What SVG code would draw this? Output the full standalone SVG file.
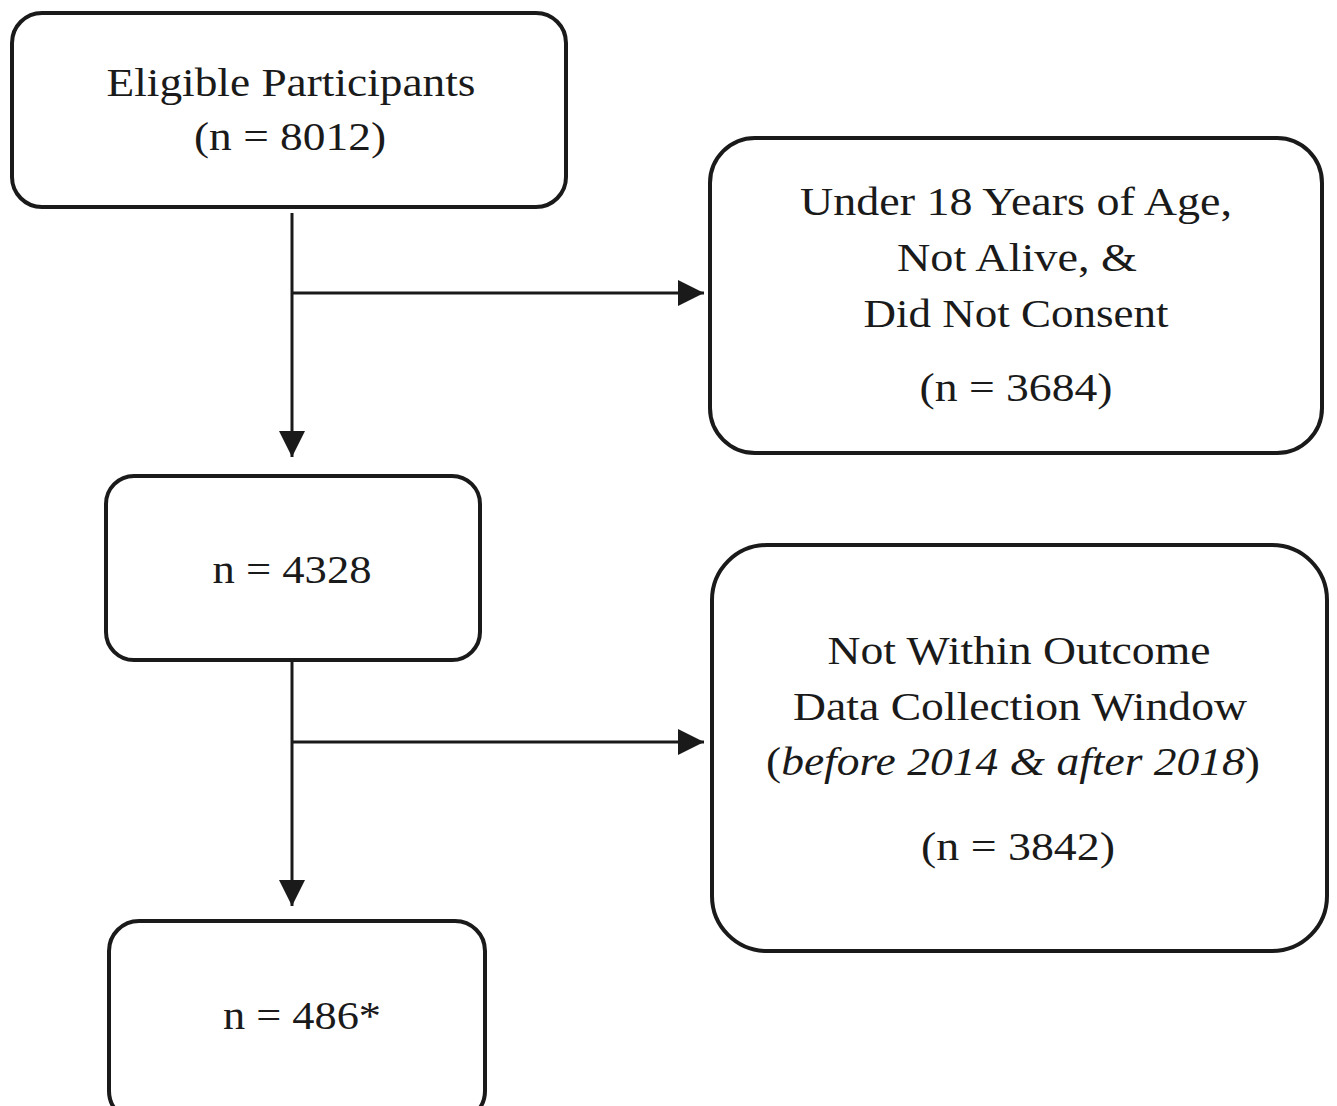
<svg xmlns="http://www.w3.org/2000/svg" width="1337" height="1106" viewBox="0 0 1337 1106">
<style>
.box{fill:#fff;stroke:#1a1a1a;stroke-width:4}
.t{font-family:'Times New Roman','Liberation Serif',Tinos,Times,serif;font-size:40px;fill:#1a1a1a;text-anchor:middle}
.it{font-style:italic}
.conn{stroke:#1a1a1a;stroke-width:3;fill:none}
</style>
<defs>
<marker id="ah" markerUnits="userSpaceOnUse" markerWidth="28" markerHeight="28" refX="26" refY="13" orient="auto">
<path d="M0,0 L26,13 L0,26 Z" fill="#1a1a1a"/>
</marker>
</defs>
<rect width="1337" height="1106" fill="#fff"/>
<g id="connectors">
<line class="conn" x1="292" y1="213" x2="292" y2="457" marker-end="url(#ah)"/>
<line class="conn" x1="292" y1="293" x2="704" y2="293" marker-end="url(#ah)"/>
<line class="conn" x1="292" y1="662" x2="292" y2="906" marker-end="url(#ah)"/>
<line class="conn" x1="292" y1="742" x2="704" y2="742" marker-end="url(#ah)"/>
</g>
<g id="eligible">
<rect class="box" x="12" y="13" width="554" height="194" rx="30"/>
<text class="t" x="291" y="96" textLength="369" lengthAdjust="spacingAndGlyphs">Eligible Participants</text>
<text class="t" x="290" y="150" textLength="192" lengthAdjust="spacingAndGlyphs">(n = 8012)</text>
</g>
<g id="excluded1">
<rect class="box" x="710" y="138" width="612" height="315" rx="45"/>
<text class="t" x="1016" y="215" textLength="432" lengthAdjust="spacingAndGlyphs">Under 18 Years of Age,</text>
<text class="t" x="1017" y="271" textLength="240" lengthAdjust="spacingAndGlyphs">Not Alive, &amp;</text>
<text class="t" x="1016" y="327" textLength="305" lengthAdjust="spacingAndGlyphs">Did Not Consent</text>
<text class="t" x="1016" y="401" textLength="193" lengthAdjust="spacingAndGlyphs">(n = 3684)</text>
</g>
<g id="n4328">
<rect class="box" x="106" y="476" width="374" height="184" rx="28"/>
<text class="t" x="292" y="583" textLength="159" lengthAdjust="spacingAndGlyphs">n = 4328</text>
</g>
<g id="excluded2">
<rect class="box" x="712" y="545" width="615" height="406" rx="55"/>
<text class="t" x="1019" y="664" textLength="383" lengthAdjust="spacingAndGlyphs">Not Within Outcome</text>
<text class="t" x="1020" y="720" textLength="454" lengthAdjust="spacingAndGlyphs">Data Collection Window</text>
<text class="t" x="1013" y="775" textLength="494" lengthAdjust="spacingAndGlyphs">(<tspan class="it">before 2014 &amp; after 2018</tspan>)</text>
<text class="t" x="1018" y="860" textLength="194" lengthAdjust="spacingAndGlyphs">(n = 3842)</text>
</g>
<g id="n486">
<rect class="box" x="109" y="921" width="376" height="200" rx="30"/>
<text class="t" x="302" y="1029" textLength="158" lengthAdjust="spacingAndGlyphs">n = 486*</text>
</g>
</svg>
